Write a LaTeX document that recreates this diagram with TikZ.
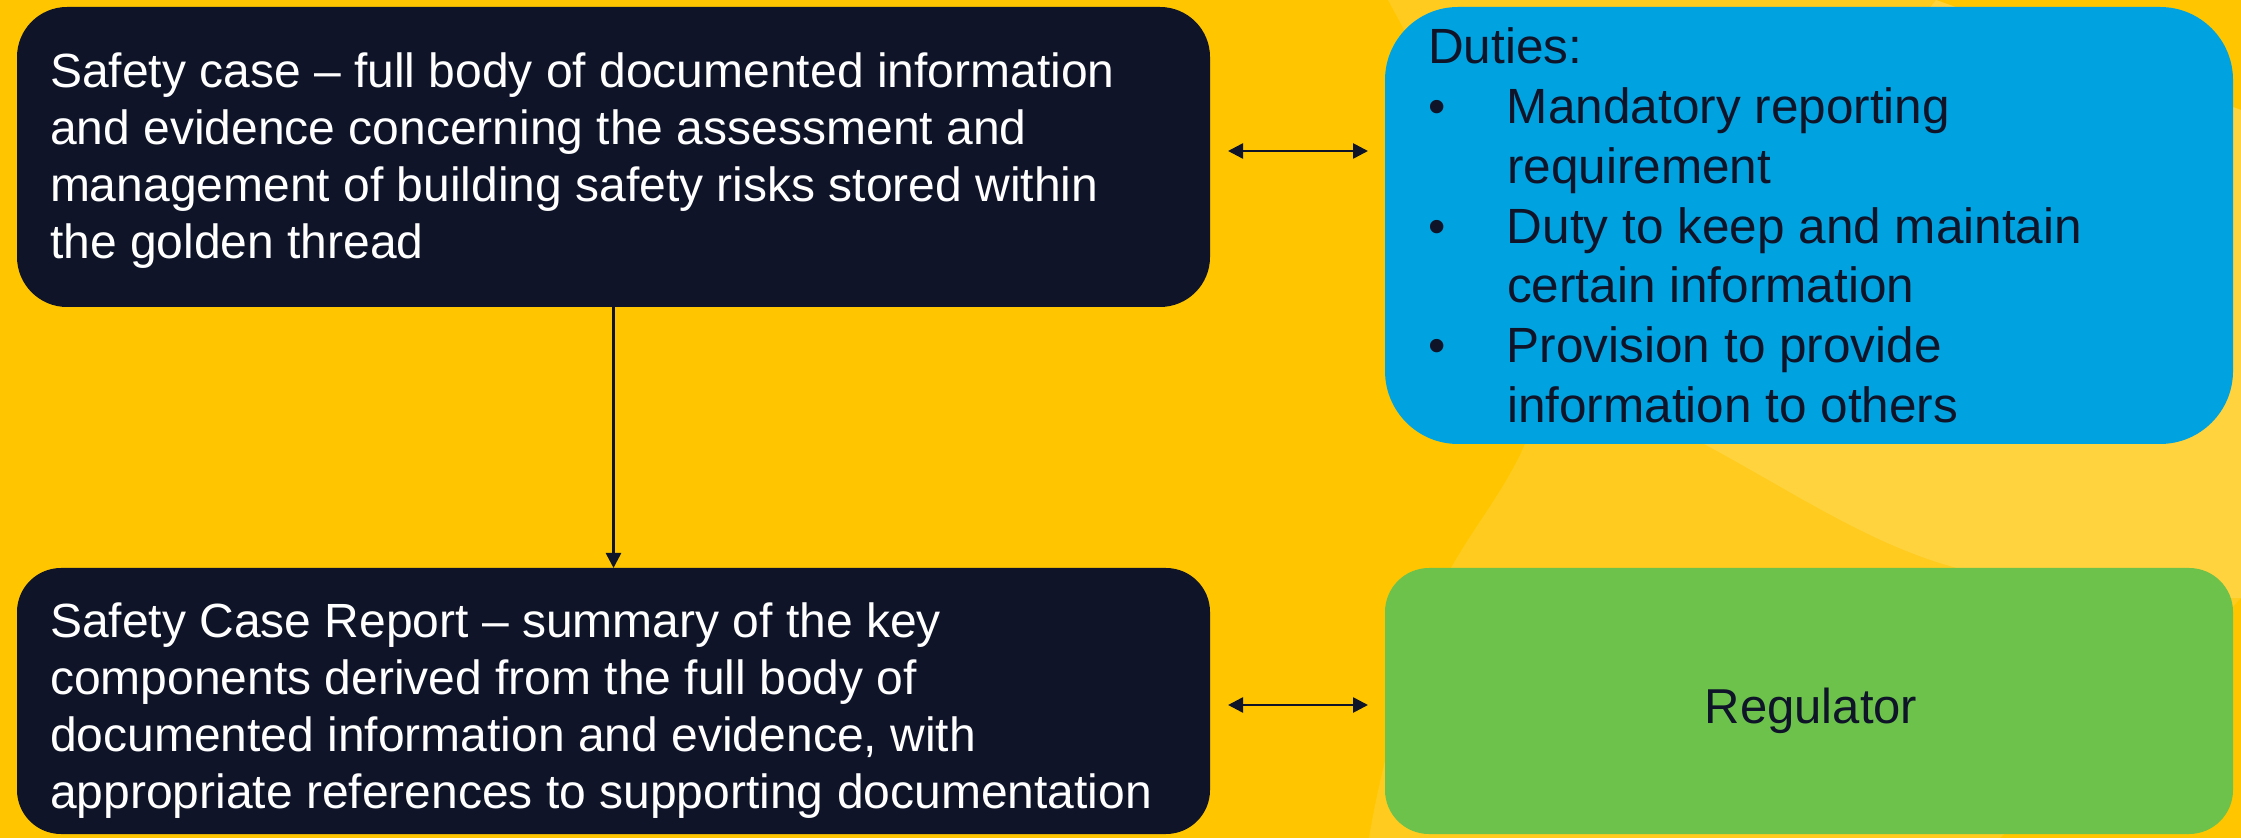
\documentclass[tikz,border=0pt]{standalone}
\usepackage{fontspec}
\setmainfont{Liberation Sans}
\usetikzlibrary{arrows.meta,calc}

\definecolor{bgyellow}{HTML}{FFC600}
\definecolor{lightA}{HTML}{FFCB1E}
\definecolor{lightB}{HTML}{FFD33D}
\definecolor{navy}{HTML}{0F1429}
\definecolor{skyblue}{HTML}{00A3E0}
\definecolor{leafgreen}{HTML}{6CC24A}

\begin{document}
\begin{tikzpicture}[x=0.5pt,y=-0.5pt,
  panel/.style={rectangle,draw=none,inner sep=0pt,outer sep=0pt},
  txt/.style={inner sep=0pt,outer sep=0pt,anchor=north west,align=left},
  bodyfont/.style={font=\fontsize{24pt}{28.5pt}\selectfont},
  listfont/.style={font=\fontsize{24.75pt}{29.85pt}\selectfont},
  tip/.tip={Triangle[length=7.5pt,width=7.5pt]},
  link/.style={draw=navy,line width=1.3pt,tip-tip},
  flow/.style={draw=navy,line width=1.3pt,-tip}]

\useasboundingbox (0,0) rectangle (2241,838);

% background with soft lighter sweeps on the right
\fill[bgyellow] (0,0) rectangle (2241,838);
\fill[lightA] (1388,0) .. controls (1470,150) and (1560,330) .. (1525,444)
  .. controls (1505,490) and (1475,525) .. (1451,568)
  .. controls (1420,640) and (1385,740) .. (1369,838)
  -- (2000,838) -- (2220,620) -- (2241,598) -- (2241,110) -- (1936,0) -- cycle;
\fill[lightB] (1936,0) -- (1700,300) -- (1704,444)
  .. controls (1790,490) and (1870,545) .. (1957,568)
  .. controls (2060,590) and (2160,597) .. (2241,598)
  -- (2241,110) -- cycle;

% panels
\node[panel,fill=navy,rounded corners=25pt,minimum width=596.5pt,minimum height=150pt] (sc) at (613.5,157) {};
\node[panel,fill=navy,rounded corners=22pt,minimum width=596.5pt,minimum height=133pt] (scr) at (613.5,701) {};
\node[panel,fill=skyblue,rounded corners=36.5pt,minimum width=424pt,minimum height=218.5pt] (duties) at (1809,225.5) {};
\node[panel,fill=leafgreen,rounded corners=22pt,minimum width=424pt,minimum height=133pt] (reg) at (1809,701) {};

% panel texts
\node[txt,bodyfont,text=white] (sctext) at (50,40)
  {\rule{0pt}{24pt}Safety case – full body of documented information\\
   and evidence concerning the assessment and\\
   management of building safety risks stored within\\
   the golden thread};
\node[txt,bodyfont,text=white] (scrtext) at (50,589)
  {\rule{0pt}{24pt}Safety Case Report – summary of the key\\
   components derived from the full body of\\
   documented information and evidence, with\\
   appropriate references to supporting documentation};
\node[txt,listfont,text=navy] (dutiestext) at (1428,16)
  {\rule{0pt}{24pt}Duties:\\
   \makebox[39.5pt][l]{•}Mandatory reporting\\
   \hspace*{39.5pt}requirement\\
   \makebox[39.5pt][l]{•}Duty to keep and maintain\\
   \hspace*{39.5pt}certain information\\
   \makebox[39.5pt][l]{•}Provision to provide\\
   \hspace*{39.5pt}information to others};
\node[inner sep=0pt,font=\fontsize{24.5pt}{29pt}\selectfont,text=navy] (regtext) at (1811,710.5) {Regulator};

% connectors
\draw[flow] (sc.south) -- (scr.north);
\draw[link] ($(sc.east)+(9pt,3pt)$) -- ($(duties.west |- sc.east)+(-8.5pt,3pt)$);
\draw[link] ($(scr.east)+(9pt,-2pt)$) -- ($(reg.west |- scr.east)+(-8.5pt,-2pt)$);
\end{tikzpicture}
\end{document}
